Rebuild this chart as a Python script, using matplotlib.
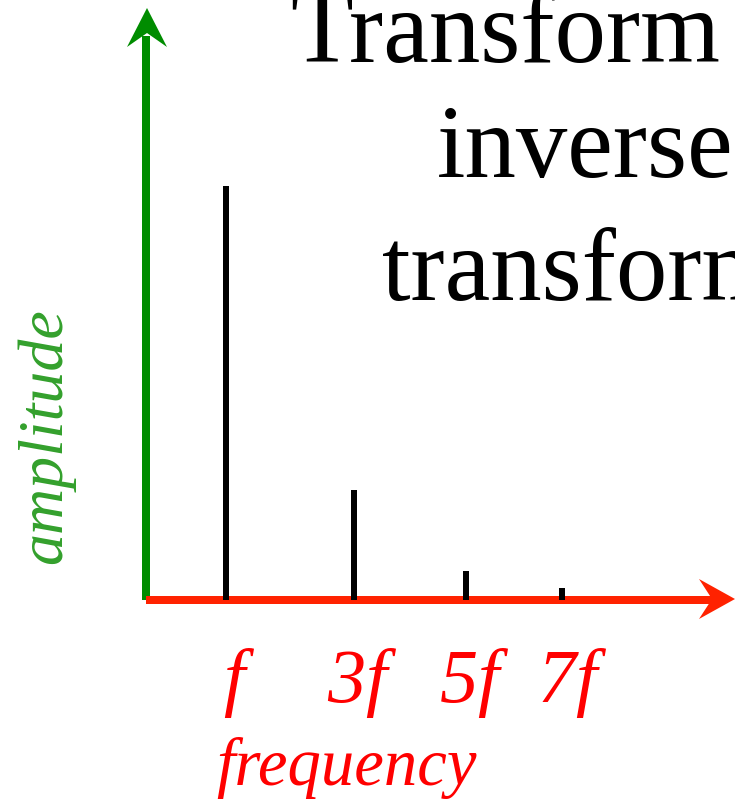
import matplotlib
matplotlib.use("Agg")
import matplotlib.pyplot as plt
from matplotlib.patches import Polygon

# Spectrum of the harmonics
harmonic_labels = ["$f$", "3$f$", "5$f$", "7$f$"]
harmonic_pos = [1.25, 3.25, 5.0, 6.5]          # position along the frequency axis
amplitudes = [1.0, 0.265, 0.069, 0.030]
title_lines = ["Transform", "inverse", "transform"]

W, H = 735, 799
fig = plt.figure(figsize=(W / 100, H / 100), dpi=100)

# Overlay axes in pixel units for the axis arrows and the text
ov = fig.add_axes([0, 0, 1, 1])
ov.set_xlim(0, W)
ov.set_ylim(H, 0)
ov.axis("off")

# Data axes: origin at the arrow corner
ox, oy = 146.0, 600.0
x_unit = 64.0     # px per frequency unit
y_unit = 414.0    # px per amplitude unit
ax = fig.add_axes([ox / W, (H - oy) / H, (W - ox) / W, oy / H])
ax.set_xlim(0, (W - ox) / x_unit)
ax.set_ylim(0, oy / y_unit)
ax.axis("off")
ax.patch.set_alpha(0)

ax.bar(harmonic_pos, amplitudes, width=6 / x_unit, color="black", zorder=2)

serif = ["Liberation Serif", "DejaVu Serif"]
plt.rcParams["mathtext.fontset"] = "custom"
plt.rcParams["mathtext.it"] = "Liberation Serif:italic"
plt.rcParams["mathtext.rm"] = "Liberation Serif"

green = "#008c00"
red = "#ff2200"


def stealth_head(tip, direction, length, half_width, notch, color):
    tx, ty = tip
    dx, dy = direction
    px, py = -dy, dx
    bx, by = tx - dx * length, ty - dy * length
    pts = [
        (tx, ty),
        (bx + px * half_width, by + py * half_width),
        (tx - dx * (length - notch), ty - dy * (length - notch)),
        (bx - px * half_width, by - py * half_width),
    ]
    ov.add_patch(Polygon(pts, closed=True, facecolor=color, edgecolor="none", zorder=4))


# Vertical (amplitude) axis
ov.plot([ox, ox], [oy, 36], color=green, lw=8 * 0.72, solid_capstyle="butt", zorder=3)
stealth_head((ox + 1, 8), (0, -1), 39, 20, 14, green)

# Horizontal (frequency) axis
ov.plot([ox, 715], [oy, oy], color=red, lw=8 * 0.72, solid_capstyle="butt", zorder=3)
stealth_head((735, oy - 1), (1, 0), 36, 20, 13, red)

# Harmonic labels under the axis
label_offsets = [0.2, 0.12, 0.12, 0.16]
for xp, lab, off in zip(harmonic_pos, harmonic_labels, label_offsets):
    ax.text(xp + off, -102 / y_unit, lab, ha="center", va="baseline",
            color="#ff0000", fontsize=55, family=serif, style="italic")

ov.text(216, 785, "frequency", color="#ff0000", fontsize=48, family=serif,
        style="italic", ha="left", va="baseline")
ov.text(46, 436, "amplitude", color="#33a02c", fontsize=46, family=serif,
        style="italic", rotation=90, ha="center", va="center")

# Title block, clipped at the right edge
title_x = [290, 437, 382]
title_y = [62, 177, 300]
for tx, ty, line in zip(title_x, title_y, title_lines):
    ov.text(tx, ty, line, color="black", fontsize=74, family=serif,
            ha="left", va="baseline")

fig.savefig("out.png", dpi=100)
